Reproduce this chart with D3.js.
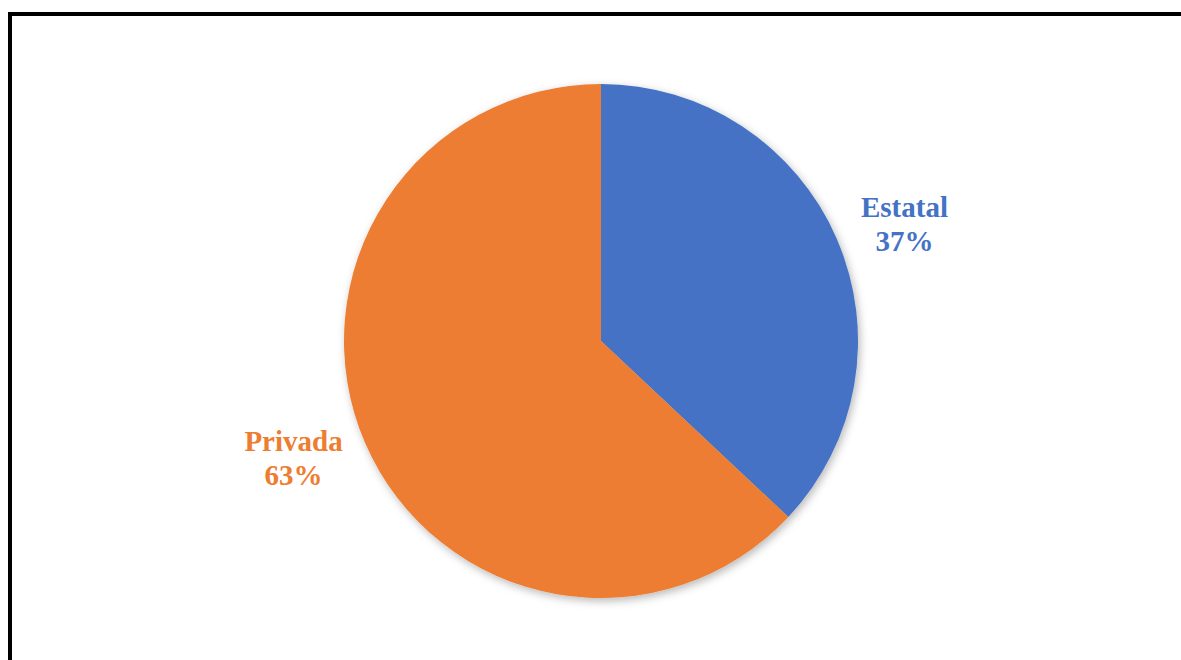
<!DOCTYPE html>
<html>
<head>
<meta charset="utf-8">
<script src="https://cdn.jsdelivr.net/npm/d3@7"></script>
<style>
  html, body { margin: 0; padding: 0; background: #fff; }
  svg { display: block; }
</style>
</head>
<body>
<svg id="chart" width="1181" height="660"></svg>
<script>
// Sector shares (percent)
const categories = ["Estatal", "Privada"];
const values = [37, 63];
const colors = ["#4472C4", "#ED7D31"];

const W = 1181, H = 660;
const svg = d3.select("#chart");

// Outer frame
svg.append("rect")
  .attr("x", 10).attr("y", 14)
  .attr("width", W + 20).attr("height", H + 20)
  .attr("fill", "none").attr("stroke", "#000").attr("stroke-width", 4);

const defs = svg.append("defs");
const f = defs.append("filter").attr("id", "shadow")
  .attr("x", "-10%").attr("y", "-10%").attr("width", "120%").attr("height", "120%");
f.append("feDropShadow").attr("dx", 2).attr("dy", 3)
  .attr("stdDeviation", 4).attr("flood-color", "#000").attr("flood-opacity", 0.28);

const cx = 601, cy = 341, r = 257;
const data = categories.map((c, i) => ({ name: c, value: values[i], color: colors[i] }));

const pie = d3.pie().value(d => d.value).sort(null);
const arc = d3.arc().innerRadius(0).outerRadius(r);
const arcs = pie(data);

const g = svg.append("g").attr("transform", `translate(${cx},${cy})`);
g.append("g").attr("filter", "url(#shadow)")
  .selectAll("path").data(arcs).join("path")
  .attr("d", arc)
  .attr("fill", d => d.data.color);

// Data labels outside the slices
const labelR = 327, labelShift = 2.5 * Math.PI / 180;
const fmt = d3.format(".0%");
const total = d3.sum(values);
g.selectAll("text.lbl").data(arcs).join("text")
  .attr("class", "lbl")
  .attr("text-anchor", "middle")
  .attr("font-family", "'Liberation Serif', 'Times New Roman', serif")
  .attr("font-weight", "bold")
  .attr("font-size", 29)
  .attr("fill", d => d.data.color)
  .each(function (d) {
    const a = (d.startAngle + d.endAngle) / 2 + labelShift;
    const x = labelR * Math.sin(a) - 2, y = -labelR * Math.cos(a) + 7;
    const t = d3.select(this);
    t.append("tspan").attr("x", x).attr("y", y - 14).text(d.data.name);
    t.append("tspan").attr("x", x).attr("y", y + 20).text(fmt(d.data.value / total));
  });
</script>
</body>
</html>
